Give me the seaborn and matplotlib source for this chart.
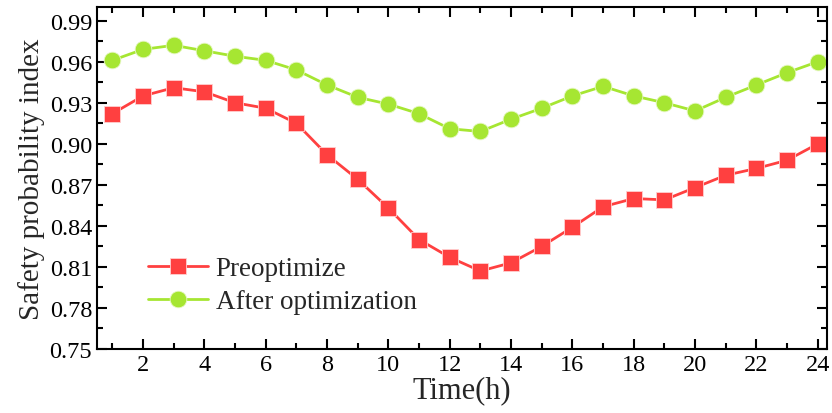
import pandas as pd
import seaborn as sns
import matplotlib.pyplot as plt
from matplotlib.ticker import MultipleLocator

hours = list(range(1, 25))
preoptimize = [0.922, 0.935, 0.941, 0.938, 0.930, 0.926, 0.915, 0.892, 0.874, 0.853,
               0.830, 0.817, 0.807, 0.813, 0.825, 0.839, 0.854, 0.860, 0.859, 0.868,
               0.877, 0.882, 0.888, 0.900]
after_opt = [0.961, 0.969, 0.972, 0.968, 0.964, 0.961, 0.954, 0.943, 0.934, 0.929,
             0.922, 0.911, 0.909, 0.918, 0.926, 0.935, 0.942, 0.935, 0.930, 0.924,
             0.934, 0.943, 0.952, 0.960]

sns.set_style("ticks")
plt.rcParams['font.family'] = ['Liberation Serif', 'DejaVu Serif']

df = pd.DataFrame({"hour": hours, "pre": preoptimize, "after": after_opt})

fig = plt.figure(figsize=(8.32, 4.14), dpi=100)
ax = fig.add_axes([0.1166, 0.1546, 0.8774, 0.8261])

sns.lineplot(data=df, x="hour", y="pre", ax=ax, color="#ff4040", lw=2,
             marker="s", markersize=11, markeredgecolor="#ffd0d0", markeredgewidth=0.6,
             label="Preoptimize")
sns.lineplot(data=df, x="hour", y="after", ax=ax, color="#a6e632", lw=2,
             marker="o", markersize=12, markeredgecolor="#e8f8c8", markeredgewidth=0.6,
             label="After optimization")

ax.set_xlim(0.5, 24.3)
ax.set_ylim(0.75, 1.0)
ax.xaxis.set_major_locator(MultipleLocator(2))
ax.xaxis.set_minor_locator(MultipleLocator(1))
ax.yaxis.set_minor_locator(MultipleLocator(0.015))
ax.set_yticks([0.75, 0.78, 0.81, 0.84, 0.87, 0.90, 0.93, 0.96, 0.99])
ax.set_yticklabels(["0.75", "0.78", "0.81", "0.84", "0.87", "0.90", "0.93", "0.96", "0.99"])

ax.tick_params(which="both", direction="in", top=True, right=True, labelsize=17.5, width=1.5, colors="black")
ax.tick_params(which="major", length=7)
ax.tick_params(which="minor", length=4)
for s in ax.spines.values():
    s.set_linewidth(1.5)
    s.set_color("black")

ax.set_xlabel("Time(h)", fontsize=22, labelpad=0)
ax.set_ylabel("Safety probability index", fontsize=21, labelpad=3)

ax.legend(loc="lower left", bbox_to_anchor=(0.055, 0.07), frameon=False, fontsize=19.5,
          handlelength=2.2, handletextpad=0.3, labelspacing=0.3, borderaxespad=0)

fig.savefig("out.png", dpi=100)
